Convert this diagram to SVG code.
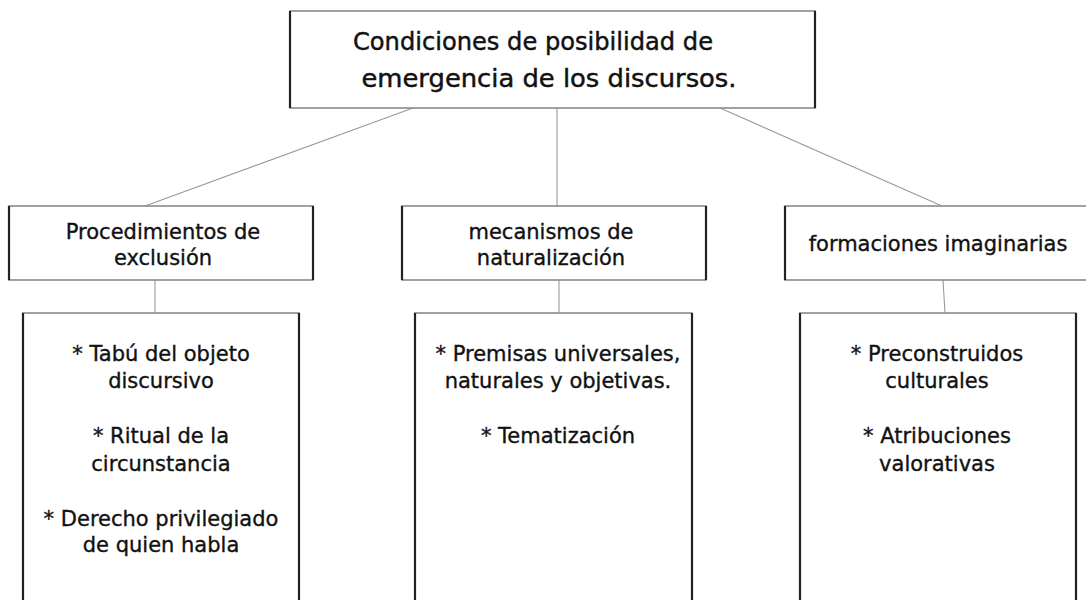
<svg xmlns="http://www.w3.org/2000/svg" width="1086" height="600" viewBox="0 0 1086 600">
<style>
.box{fill:#fff;stroke:#8a8a8a;stroke-width:1.6}
.side{stroke:#222;stroke-width:2.2}
.conn{stroke:#9a9a9a;stroke-width:1.1;fill:none}
text{font-family:"DejaVu Sans","Liberation Sans",sans-serif;fill:#111;stroke:#111;stroke-width:0.35;text-anchor:middle;font-size:21px}
.title{font-size:25px;stroke-width:0.45}
</style>
<rect width="1086" height="600" fill="#fff"/>
<g id="connectors">
<line class="conn" x1="413" y1="108" x2="145" y2="206"/>
<line class="conn" x1="557" y1="108" x2="557" y2="206"/>
<line class="conn" x1="720" y1="108" x2="942" y2="206"/>
<line class="conn" x1="155" y1="280" x2="155" y2="313"/>
<line class="conn" x1="559" y1="280" x2="559" y2="313"/>
<line class="conn" x1="943" y1="280" x2="945" y2="313"/>
</g>
<g id="root">
<rect class="box" x="290" y="11" width="525" height="97"/>
<line class="side" x1="290" y1="11" x2="290" y2="108"/>
<line class="side" x1="815" y1="11" x2="815" y2="108"/>
<text class="title" x="533" y="50" textLength="360" lengthAdjust="spacingAndGlyphs">Condiciones de posibilidad de</text>
<text class="title" x="549" y="87" textLength="375" lengthAdjust="spacingAndGlyphs">emergencia de los discursos.</text>
</g>
<g id="n-exclusion">
<rect class="box" x="9" y="206" width="304" height="74"/>
<line class="side" x1="9" y1="206" x2="9" y2="280"/>
<line class="side" x1="313" y1="206" x2="313" y2="280"/>
<text x="163" y="239">Procedimientos de</text>
<text x="163" y="265">exclusión</text>
</g>
<g id="n-naturalizacion">
<rect class="box" x="402" y="206" width="304" height="74"/>
<line class="side" x1="402" y1="206" x2="402" y2="280"/>
<line class="side" x1="706" y1="206" x2="706" y2="280"/>
<text x="551" y="239">mecanismos de</text>
<text x="551" y="265">naturalización</text>
</g>
<g id="n-formaciones">
<rect class="box" x="785" y="206" width="310" height="74"/>
<line class="side" x1="785" y1="206" x2="785" y2="280"/>
<text x="938" y="251">formaciones imaginarias</text>
</g>
<g id="d-exclusion">
<rect class="box" x="23" y="313" width="276" height="300"/>
<line class="side" x1="23" y1="313" x2="23" y2="600"/>
<line class="side" x1="299" y1="313" x2="299" y2="600"/>
<text x="161" y="361">* Tabú del objeto</text>
<text x="161" y="388">discursivo</text>
<text x="161" y="443">* Ritual de la</text>
<text x="161" y="471">circunstancia</text>
<text x="161" y="526">* Derecho privilegiado</text>
<text x="161" y="552">de quien habla</text>
</g>
<g id="d-naturalizacion">
<rect class="box" x="415" y="313" width="277" height="300"/>
<line class="side" x1="415" y1="313" x2="415" y2="600"/>
<line class="side" x1="692" y1="313" x2="692" y2="600"/>
<text x="558" y="361">* Premisas universales,</text>
<text x="558" y="388">naturales y objetivas.</text>
<text x="558" y="443">* Tematización</text>
</g>
<g id="d-formaciones">
<rect class="box" x="800" y="313" width="276" height="300"/>
<line class="side" x1="800" y1="313" x2="800" y2="600"/>
<line class="side" x1="1076" y1="313" x2="1076" y2="600"/>
<text x="937" y="361">* Preconstruidos</text>
<text x="937" y="388">culturales</text>
<text x="937" y="443">* Atribuciones</text>
<text x="937" y="471">valorativas</text>
</g>
</svg>
